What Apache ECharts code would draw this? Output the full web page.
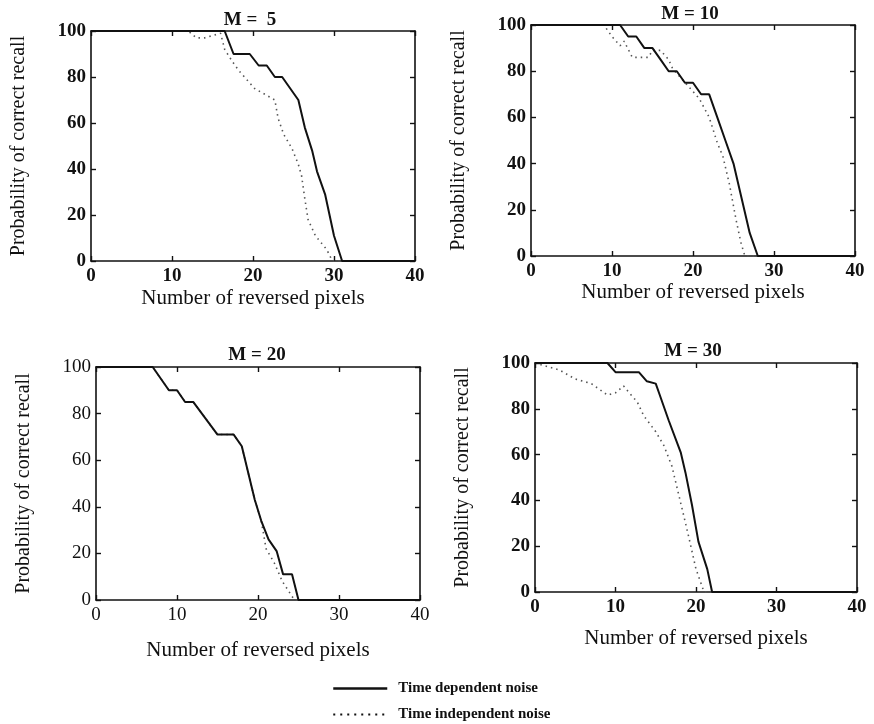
<!DOCTYPE html>
<html>
<head>
<meta charset="utf-8">
<script src="https://cdn.jsdelivr.net/npm/echarts@6/dist/echarts.min.js"></script>
<style>html,body{margin:0;padding:0;background:#fff}#c{width:874px;height:724px}</style>
</head>
<body>
<div id="c"></div>
<script>
// ---- data ----
const panelTitles = ['M =  5', 'M = 10', 'M = 20', 'M = 30'];
const xTicks = [0, 10, 20, 30, 40];
const yTicks = [0, 20, 40, 60, 80, 100];
const seriesNames = ['Time dependent noise', 'Time independent noise'];

const m5DepX   = [0, 16.5, 17.6, 19.6, 20.7, 21.7, 22.7, 23.6, 24.6, 25.6, 26.4, 27.3, 27.9, 28.9, 30, 31, 40];
const m5DepY   = [100, 100, 90, 90, 85, 85, 80, 80, 75, 70, 58, 48, 39, 29, 11, 0, 0];
const m5IndX   = [0, 12, 13, 14, 15, 16, 16.5, 17.4, 18.2, 20.2, 22.7, 23.1, 23.8, 24.8, 25.6, 26, 26.4, 26.8, 27.7, 29.1, 29.8, 40];
const m5IndY   = [100, 100, 97, 97, 98, 99, 92, 87, 83, 75, 70, 62, 55, 49, 42, 37, 27, 18, 11, 5, 0, 0];

const m10DepX  = [0, 11, 12, 13, 14, 15, 16, 17, 18, 19, 20, 21, 22, 23, 24, 25, 26, 27, 28, 40];
const m10DepY  = [100, 100, 95, 95, 90, 90, 85, 80, 80, 75, 75, 70, 70, 60, 50, 40, 25, 10, 0, 0];
const m10IndX  = [0, 9, 10, 11, 11.5, 12.5, 14.5, 15, 16, 17, 17.5, 19.8, 20.8, 22, 23, 23.7, 24.5, 25.3, 25.9, 26.4, 40];
const m10IndY  = [100, 100, 95, 91, 93, 86, 86, 89, 89, 85, 81, 72, 68, 60, 49, 43, 31, 16, 6, 0, 0];

const m20DepX  = [0, 7, 9, 10, 11, 12, 15, 17, 18, 19.6, 20.4, 21.3, 22.3, 23.1, 24.2, 25, 40];
const m20DepY  = [100, 100, 90, 90, 85, 85, 71, 71, 66, 43, 34, 26, 21, 11, 11, 0, 0];
const m20IndX  = [0, 7, 9, 10, 11, 12, 15, 17, 18, 19.6, 20.4, 21, 22, 23, 24.5, 40];
const m20IndY  = [100, 100, 90, 90, 85, 85, 71, 71, 66, 43, 34, 22, 16, 8, 0, 0];

const m30DepX  = [0, 9, 10, 12.9, 13.9, 15, 15.4, 16.6, 18.1, 18.7, 19.5, 20.3, 21.4, 22, 40];
const m30DepY  = [100, 100, 96, 96, 92, 91, 87, 75, 61, 52, 38, 22, 10, 0, 0];
const m30IndX  = [0, 3, 5, 7, 9, 10, 11, 11.7, 12.7, 13.5, 15, 16, 17, 18.5, 19.1, 20, 21, 40];
const m30IndY  = [100, 97, 93, 91, 86, 87, 90, 87, 83, 77, 70, 64, 55, 33, 24, 10, 0, 0];

// ---- layout ----
const FONT = "'Liberation Serif', 'Times New Roman', serif";
const grids = [
  {left: 91,  top: 31,  width: 324, height: 230},
  {left: 531, top: 25,  width: 324, height: 231},
  {left: 96,  top: 367, width: 324, height: 233},
  {left: 535, top: 363, width: 322, height: 229}
];
const titlePos = [[250, 20], [690, 14], [257, 355], [693, 351]];
const xNameGap = [27, 26, 40, 36];
const tickWeight = ['bold', 'bold', 'normal', 'bold'];
const panels = [
  [[m5DepX, m5DepY], [m5IndX, m5IndY]],
  [[m10DepX, m10DepY], [m10IndX, m10IndY]],
  [[m20DepX, m20DepY], [m20IndX, m20IndY]],
  [[m30DepX, m30DepY], [m30IndX, m30IndY]]
];

const zip = (xs, ys) => xs.map((x, i) => [x, ys[i]]);
const INK = '#111';
const lineSt = {show: true, onZero: false, lineStyle: {color: INK, width: 1.6}};
const tickSt = {show: true, inside: true, length: 5, lineStyle: {color: INK, width: 1.4}};

const xAxes = [], yAxes = [], series = [], graphic = [];
grids.forEach((g, i) => {
  const lab = {fontFamily: FONT, fontSize: 19, color: INK, fontWeight: tickWeight[i]};
  const base = {min: 0, interval: 10, max: 40, gridIndex: i, type: 'value'};
  xAxes.push(Object.assign({}, base, {
    position: 'bottom', axisLine: lineSt, axisTick: tickSt,
    axisLabel: Object.assign({margin: 6}, lab),
    splitLine: {show: false},
    name: 'Number of reversed pixels', nameLocation: 'middle', nameGap: xNameGap[i],
    nameTextStyle: {fontFamily: FONT, fontSize: 21, color: INK}
  }));
  xAxes.push(Object.assign({}, base, {
    position: 'top', axisLine: lineSt, axisTick: tickSt,
    axisLabel: {show: false}, splitLine: {show: false}
  }));
  const ybase = {min: 0, max: 100, interval: 20, gridIndex: i, type: 'value'};
  yAxes.push(Object.assign({}, ybase, {
    position: 'left', axisLine: lineSt, axisTick: tickSt,
    axisLabel: Object.assign({margin: 5}, lab),
    splitLine: {show: false},
    name: 'Probability of correct recall', nameLocation: 'middle', nameGap: 62,
    nameTextStyle: {fontFamily: FONT, fontSize: 20, color: INK}
  }));
  yAxes.push(Object.assign({}, ybase, {
    position: 'right', axisLine: lineSt, axisTick: tickSt,
    axisLabel: {show: false}, splitLine: {show: false}
  }));
  panels[i].forEach((p, k) => {
    series.push({
      type: 'line', name: seriesNames[k],
      xAxisIndex: 2 * i, yAxisIndex: 2 * i,
      data: zip(p[0], p[1]), symbol: 'none', silent: true,
      z: k === 0 ? 3 : 2,
      lineStyle: k === 0 ? {color: INK, width: 2} : {color: '#555', width: 1.6, type: [1.5, 4]},
      itemStyle: {color: k === 0 ? INK : '#333'}
    });
  });
  graphic.push({
    type: 'text', x: titlePos[i][0], y: titlePos[i][1],
    style: {text: panelTitles[i], fontFamily: FONT, fontSize: 19, fontWeight: 'bold',
            fill: INK, textAlign: 'center', textVerticalAlign: 'middle'}
  });
});

const chart = echarts.init(document.getElementById('c'), null, {renderer: 'canvas'});
chart.setOption({
  animation: false,
  backgroundColor: '#fff',
  grid: grids.map(g => Object.assign({show: false, containLabel: false}, g)),
  xAxis: xAxes,
  yAxis: yAxes,
  series: series,
  graphic: graphic,
  legend: {
    data: [
      {name: seriesNames[0], itemStyle: {color: 'rgba(0,0,0,0)', borderWidth: 0, opacity: 0},
       lineStyle: {color: INK, width: 2.5, type: 'solid'}},
      {name: seriesNames[1], itemStyle: {color: 'rgba(0,0,0,0)', borderWidth: 0, opacity: 0},
       lineStyle: {color: '#111', width: 2.2, type: [2, 5]}}
    ],
    orient: 'vertical', left: 332, top: 681, padding: 0,
    itemWidth: 54, itemHeight: 14, itemGap: 11,
    selectedMode: false,
    textStyle: {fontFamily: FONT, fontSize: 15, fontWeight: 'bold', color: INK, padding: [0, 0, 0, 6]}
  }
});
</script>
</body>
</html>
